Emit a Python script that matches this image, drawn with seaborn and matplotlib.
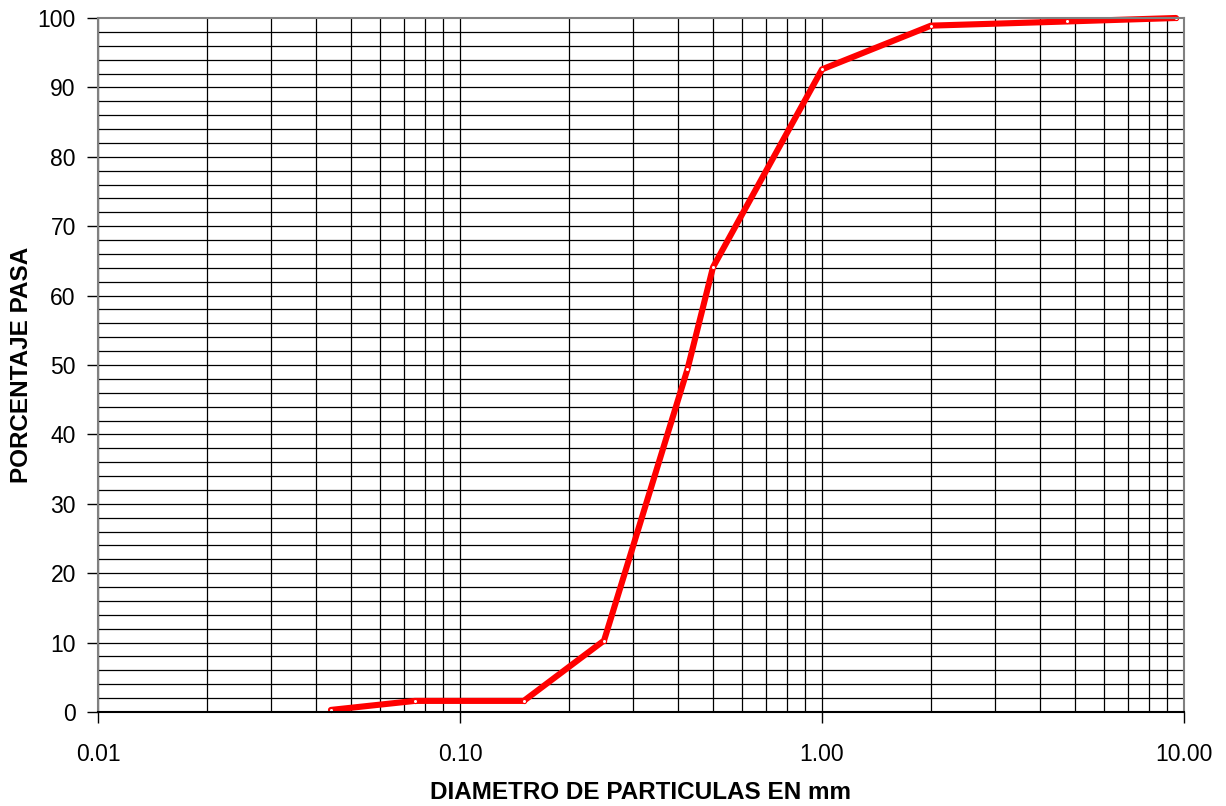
import numpy as np
import pandas as pd
import matplotlib
matplotlib.use("Agg")
import matplotlib.pyplot as plt
from matplotlib.ticker import FixedLocator, FixedFormatter, NullFormatter
import seaborn as sns

# curva granulometrica (tamiz en mm vs % que pasa)
diametro = [0.044, 0.075, 0.150, 0.250, 0.425, 0.500, 1.00, 2.00, 4.75, 9.50]
pasa = [0.3, 1.6, 1.6, 10.3, 49.4, 64.1, 92.6, 98.9, 99.5, 100.0]

x_ticks = [0.01, 0.1, 1.0, 10.0]
x_labels = ["0.01", "0.10", "1.00", "10.00"]
y_ticks = list(range(0, 101, 10))

df = pd.DataFrame({"diametro": diametro, "pasa": pasa})

sns.set_style("white")
plt.rcParams["font.family"] = ["Liberation Sans", "DejaVu Sans"]

fig = plt.figure(figsize=(12.26, 8.06), dpi=100)
ax = fig.add_axes([98 / 1226, 1 - 712 / 806, (1184 - 98) / 1226, (712 - 18) / 806])

ax.set_xscale("log")
ax.set_xlim(0.01, 10)
ax.set_ylim(0, 100)

# rejilla: verticales en cada subdivision log, horizontales cada 2
minors = [m * 10.0 ** d for d in range(-2, 1) for m in range(2, 10)]
for v in minors + x_ticks:
    ax.axvline(v, color="black", lw=0.9, zorder=1)
for h in range(2, 100, 2):
    ax.axhline(h, color="black", lw=0.9, zorder=1)

sns.lineplot(data=df, x="diametro", y="pasa", ax=ax, color="#ff0000", lw=4.4,
             marker="o", markersize=3, markerfacecolor="white",
             markeredgecolor="#ff0000", markeredgewidth=0.8, zorder=3,
             clip_on=False)

ax.xaxis.set_major_locator(FixedLocator(x_ticks))
ax.xaxis.set_major_formatter(FixedFormatter(x_labels))
ax.xaxis.set_minor_locator(FixedLocator([]))
ax.xaxis.set_minor_formatter(NullFormatter())
ax.set_yticks(y_ticks)

ax.tick_params(axis="both", which="major", direction="out", length=8, width=1,
               color="black", labelcolor="black", labelsize=16.5,
               bottom=True, left=True)
ax.tick_params(axis="x", pad=14)
ax.tick_params(axis="y", pad=8)

for s in ax.spines.values():
    s.set_color("#808080")
    s.set_linewidth(1.5)
    s.set_zorder(4)
ax.spines["bottom"].set_color("black")

ax.set_xlabel("DIAMETRO DE PARTICULAS EN mm", fontsize=17.5, fontweight="bold",
              color="black", labelpad=11)
ax.set_ylabel("PORCENTAJE PASA", fontsize=17.5, fontweight="bold",
              color="black", labelpad=3)

fig.savefig("out.png", dpi=100)
